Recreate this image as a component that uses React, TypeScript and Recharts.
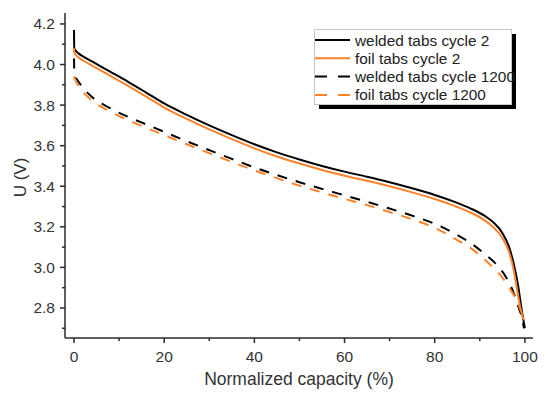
import {LineChart, Line, XAxis, YAxis, Legend} from 'recharts';

// discharge curves
const capacityW2 = [0, 0.05, 0.5, 1, 2, 4, 8, 12, 16, 20, 25, 30, 35, 40, 45, 50, 55, 60, 65, 70, 75, 80, 85, 88, 91, 93, 95, 96.5, 97.5, 98.5, 99.3, 100];
const voltageW2 = [4.17, 4.08, 4.065, 4.055, 4.04, 4.015, 3.965, 3.915, 3.862, 3.808, 3.752, 3.70, 3.652, 3.607, 3.567, 3.532, 3.50, 3.472, 3.447, 3.42, 3.39, 3.357, 3.318, 3.29, 3.255, 3.222, 3.17, 3.10, 3.02, 2.91, 2.79, 2.70];

const capacityF2 = [0, 0.05, 0.5, 1, 2, 4, 8, 12, 16, 20, 25, 30, 35, 40, 45, 50, 55, 60, 65, 70, 75, 80, 85, 88, 91, 93, 95, 96.5, 97.5, 98.5, 99.3, 99.8];
const voltageF2 = [4.08, 4.06, 4.045, 4.035, 4.02, 3.995, 3.945, 3.895, 3.842, 3.788, 3.732, 3.68, 3.632, 3.587, 3.547, 3.512, 3.48, 3.452, 3.427, 3.40, 3.37, 3.337, 3.298, 3.27, 3.233, 3.198, 3.145, 3.075, 2.99, 2.86, 2.77, 2.74];

const capacityW1200 = [0, 0.1, 0.5, 1, 2, 4, 8, 12, 16, 20, 25, 30, 35, 40, 45, 50, 55, 60, 65, 70, 75, 80, 85, 88, 91, 93, 95, 96.5, 97.5, 98.5, 99.3, 99.8];
const voltageW1200 = [4.03, 3.94, 3.93, 3.915, 3.885, 3.84, 3.785, 3.742, 3.705, 3.668, 3.622, 3.578, 3.535, 3.493, 3.455, 3.42, 3.387, 3.355, 3.323, 3.29, 3.255, 3.215, 3.16, 3.12, 3.068, 3.03, 2.98, 2.925, 2.875, 2.81, 2.755, 2.70];

const capacityF1200 = [0, 0.5, 1, 2, 4, 8, 12, 16, 20, 25, 30, 35, 40, 45, 50, 55, 60, 65, 70, 75, 80, 85, 88, 91, 93, 95, 96.5, 97.5, 98.5, 99.3, 99.7];
const voltageF1200 = [3.94, 3.915, 3.895, 3.865, 3.822, 3.768, 3.725, 3.688, 3.652, 3.607, 3.563, 3.52, 3.478, 3.44, 3.403, 3.37, 3.338, 3.307, 3.273, 3.237, 3.195, 3.135, 3.095, 3.04, 2.998, 2.95, 2.90, 2.865, 2.82, 2.775, 2.74];

const xTicks = [0, 10, 20, 30, 40, 50, 60, 70, 80, 90, 100];
const yTicks = [2.7, 2.8, 2.9, 3.0, 3.1, 3.2, 3.3, 3.4, 3.5, 3.6, 3.7, 3.8, 3.9, 4.0, 4.1, 4.2];

const FONT = '"Liberation Sans", Arial, sans-serif';
const ORANGE = '#ff8129';
const AXIS = '#2a2a2a';

const zip = (xs: number[], vs: number[]) => xs.map((x, i) => ({x, v: vs[i]}));

const series = [
    {name: 'welded tabs cycle 2', data: zip(capacityW2, voltageW2), color: '#000', dash: undefined},
    {name: 'foil tabs cycle 2', data: zip(capacityF2, voltageF2), color: ORANGE, dash: undefined},
    {name: 'welded tabs cycle 1200', data: zip(capacityW1200, voltageW1200), color: '#000', dash: '10 9'},
    {name: 'foil tabs cycle 1200', data: zip(capacityF1200, voltageF1200), color: ORANGE, dash: '10 9'},
];

const BottomTick = (props: any) => {
    const {x, y, payload} = props;
    const major = payload.value % 20 === 0;
    return (
        <g>
            <line x1={x} x2={x} y1={y} y2={y + (major ? 5 : 3)} stroke={AXIS} strokeWidth={1.5} />
            {major && (
                <text x={x} y={y + 24} textAnchor="middle" fontSize={15.5} fontFamily={FONT} fill="#333">
                    {payload.value}
                </text>
            )}
        </g>
    );
};

const LeftTick = (props: any) => {
    const {x, y, payload} = props;
    const major = Math.round(payload.value * 10) % 2 === 0;
    return (
        <g>
            <line x1={x - (major ? 5 : 3)} x2={x} y1={y} y2={y} stroke={AXIS} strokeWidth={1.5} />
            {major && (
                <text x={x - 10} y={y + 5.5} textAnchor="end" fontSize={15.5} fontFamily={FONT} fill="#333">
                    {payload.value.toFixed(1)}
                </text>
            )}
        </g>
    );
};

const TopTick = (props: any) => {
    const {x, y} = props;
    return <line x1={x} x2={x} y1={y} y2={y + 4} stroke={AXIS} strokeWidth={1.5} />;
};

const RightTick = (props: any) => {
    const {x, y} = props;
    return <line x1={x - 4} x2={x} y1={y} y2={y} stroke={AXIS} strokeWidth={1.5} />;
};

const LegendBox = () => (
    <svg width={205} height={84} style={{display: 'block', overflow: 'visible'}}>
        <rect x={5} y={5} width={197} height={75} fill="#000" />
        <rect x={0.5} y={0.5} width={197} height={75} fill="#fff" stroke="#c8c8c8" />
        {series.map((s, i) => {
            const cy = 11 + i * 18.3;
            return (
                <g key={s.name}>
                    <line x1={1} x2={36} y1={cy} y2={cy} stroke={s.color} strokeWidth={2}
                          strokeDasharray={s.dash ? '12 11' : undefined} />
                    <text x={41} y={cy + 5.5} fontSize={15.4} fontFamily={FONT} fill="#222">{s.name}</text>
                </g>
            );
        })}
    </svg>
);

export default function App() {
    return (
        <div style={{margin: -8, width: 550, height: 398, background: '#fff'}}>
            <LineChart width={550} height={398} margin={{top: 13, right: 17, bottom: 0, left: 0}}>
                <XAxis dataKey="x" type="number" domain={[-2, 101.8]} allowDataOverflow ticks={xTicks} interval={0}
                       height={60} tickSize={0} tickMargin={0} tickLine={false} tick={<BottomTick />}
                       axisLine={{stroke: AXIS, strokeWidth: 1.5}}
                       label={{
                           content: (p: any) => (
                               <text x={p.viewBox.x + p.viewBox.width / 2} y={p.viewBox.y + 47} textAnchor="middle"
                                     fontSize={17.5} fontFamily={FONT} fill="#333">Normalized capacity (%)</text>
                           ),
                       }} />
                <XAxis xAxisId="top" orientation="top" type="number" domain={[-2, 101.8]} allowDataOverflow
                       ticks={xTicks} interval={0} mirror height={0} tickSize={0} tickMargin={0} tickLine={false}
                       tick={<TopTick />} axisLine={{stroke: AXIS, strokeWidth: 1.5}} />
                <YAxis type="number" domain={[2.652, 4.254]} allowDataOverflow ticks={yTicks} interval={0}
                       width={65} tickSize={0} tickMargin={0} tickLine={false} tick={<LeftTick />}
                       axisLine={{stroke: AXIS, strokeWidth: 1.5}}
                       label={{
                           content: (p: any) => {
                               const cx = p.viewBox.x + 20;
                               const cy = p.viewBox.y + p.viewBox.height / 2 + 2;
                               return (
                                   <text x={cx} y={cy} transform={`rotate(-90 ${cx} ${cy})`} textAnchor="middle"
                                         dominantBaseline="central" fontSize={17} fontFamily={FONT} fill="#333">U (V)</text>
                               );
                           },
                       }} />
                <YAxis yAxisId="right" orientation="right" type="number" domain={[2.652, 4.254]} allowDataOverflow
                       ticks={yTicks} interval={0} mirror width={0} tickSize={0} tickMargin={0} tickLine={false}
                       tick={<RightTick />} axisLine={{stroke: AXIS, strokeWidth: 1.5}} />
                <Legend layout="vertical" align="center" verticalAlign="middle" content={<LegendBox />}
                        wrapperStyle={{position: 'absolute', left: 314, top: 29, width: 'auto'}} />
                {series.map(s => (
                    <Line key={s.name} data={s.data} dataKey="v" name={s.name} type="monotone" stroke={s.color}
                          strokeWidth={2} strokeDasharray={s.dash} dot={false} activeDot={false}
                          isAnimationActive={false} />
                ))}
            </LineChart>
        </div>
    );
}
